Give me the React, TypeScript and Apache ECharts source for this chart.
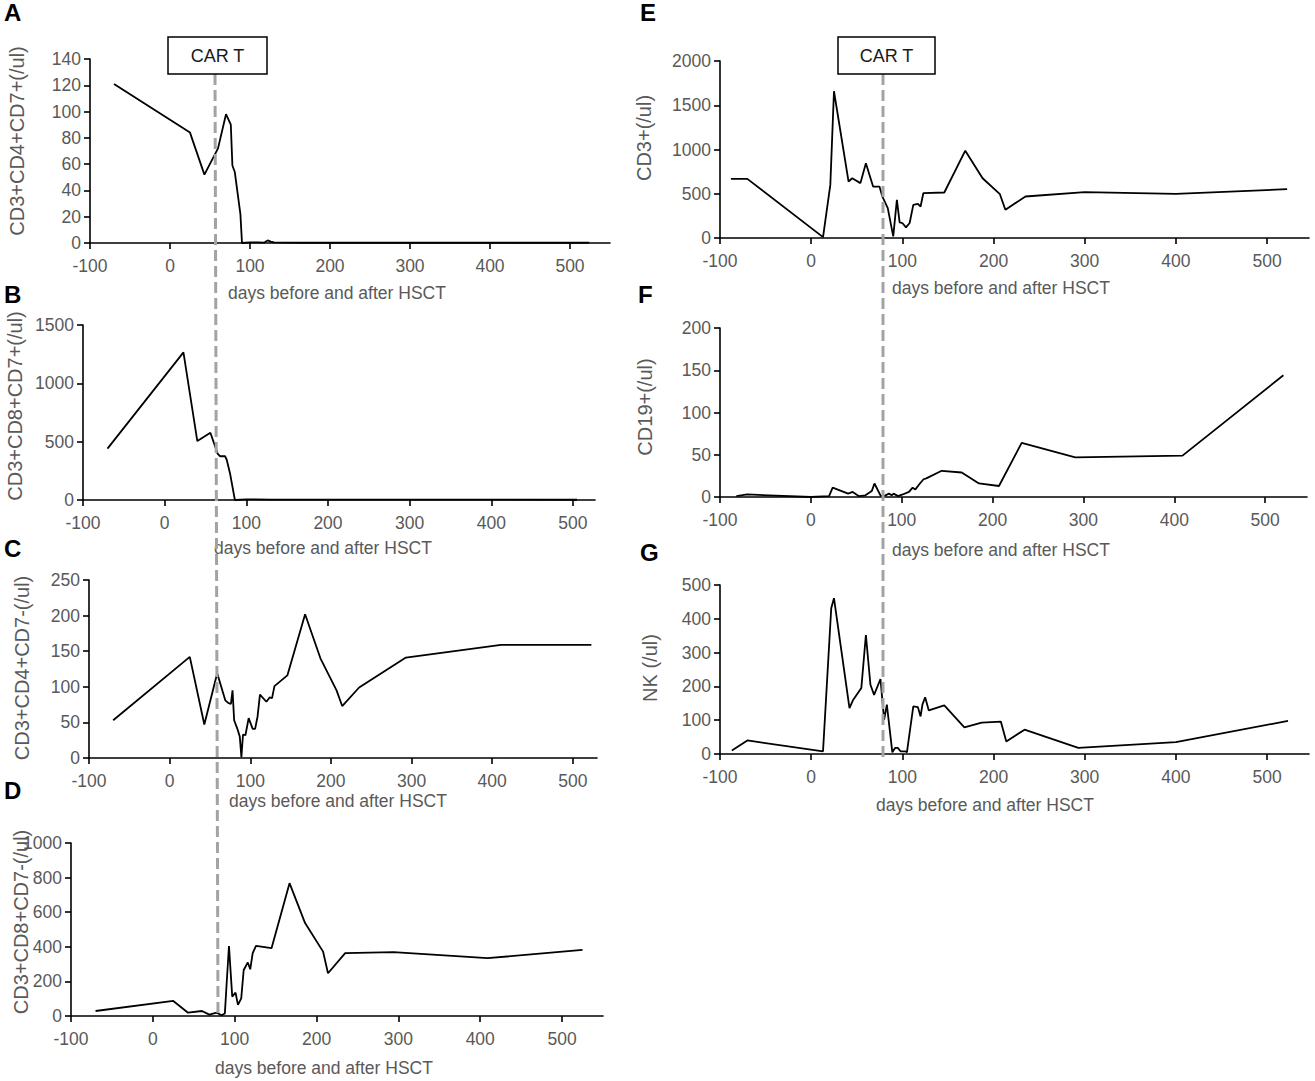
import React, { useEffect, useRef } from "react";
import * as echarts from "echarts";

// ---------- data ----------
const xTickValues = [-100, 0, 100, 200, 300, 400, 500];
const xTitle = "days before and after HSCT";
const carTLabel = "CAR T";
const panelLetters = ["A", "B", "C", "D", "E", "F", "G"];
const yTitles = [
  "CD3+CD4+CD7+(/ul)",
  "CD3+CD8+CD7+(/ul)",
  "CD3+CD4+CD7-(/ul)",
  "CD3+CD8+CD7-(/ul)",
  "CD3+(/ul)",
  "CD19+(/ul)",
  "NK (/ul)",
];
const yMaxes = [140, 1500, 250, 1000, 2000, 200, 500];
const yIntervals = [20, 500, 50, 200, 500, 50, 100];
const xMaxes = [550, 527, 530, 550, 546, 546, 546];

const aDays = [-70, 25, 43, 60, 70, 76, 78, 81, 88, 90, 100, 110, 118, 122, 126, 130, 146, 168, 187, 208, 214, 235, 293, 412, 524];
const aValues = [121, 84, 52, 72, 98, 90, 59, 54, 22, 0, 0.5, 0.5, 0.3, 2, 1, 0.5, 0.3, 0.2, 0.2, 0.2, 0.2, 0.2, 0.2, 0.2, 0.2];

const bDays = [-70, 23, 40, 56, 65, 68, 74, 76, 80, 86, 100, 130, 200, 300, 400, 505];
const bValues = [440, 1265, 505, 577, 395, 375, 375, 345, 230, 0, 5, 4, 3, 3, 3, 2];

const cDays = [-70, 25, 43, 59, 69, 73, 76, 78, 80, 84, 87, 89, 91, 94, 98, 103, 106, 109, 112, 120, 124, 127, 130, 146, 168, 187, 207, 214, 235, 293, 411, 523];
const cValues = [53, 142, 47, 119, 81, 77, 76, 95, 53, 41, 30, 1, 33, 32, 56, 41, 41, 58, 89, 79, 85, 84, 101, 116, 202, 140, 95, 73, 99, 141, 159, 159];

const dDays = [-70, 25, 43, 60, 69, 78, 84, 88, 90, 93, 97, 101, 104, 108, 111, 116, 119, 122, 126, 145, 167, 186, 208, 214, 235, 294, 409, 525];
const dValues = [29, 87, 19, 29, 8, 19, 4, 15, 175, 405, 112, 135, 64, 102, 266, 309, 270, 363, 405, 392, 768, 537, 372, 247, 363, 369, 334, 382];

const eDays = [-88, -70, 13, 21, 25, 41, 45, 54, 60, 68, 75, 78, 84, 90, 94, 97, 100, 104, 108, 112, 117, 120, 123, 146, 169, 188, 207, 213, 235, 300, 400, 522];
const eValues = [668, 668, 10, 600, 1658, 638, 675, 620, 844, 580, 580, 470, 338, 19, 432, 176, 169, 120, 169, 375, 386, 356, 506, 514, 987, 675, 495, 319, 469, 518, 499, 552];

const fDays = [-82, -70, 0, 20, 24, 41, 46, 53, 60, 67, 70, 77, 82, 86, 89, 91, 96, 101, 108, 112, 115, 120, 124, 127, 144, 166, 185, 207, 232, 291, 409, 520];
const fValues = [1, 3, 0, 1, 11, 4, 6, 1, 2, 7, 16, 1, 2, 4, 2, 4, 1, 3, 6, 11, 9, 16, 21, 22, 31, 29, 16, 13, 64, 47, 49, 144];

const gDays = [-87, -70, 13, 22, 25, 42, 46, 55, 60, 65, 69, 76, 80, 83, 89, 92, 95, 98, 103, 105, 112, 117, 120, 122, 125, 129, 146, 168, 187, 208, 214, 234, 293, 400, 523];
const gValues = [10, 40, 8, 431, 461, 136, 160, 195, 352, 205, 175, 222, 101, 146, 5, 18, 18, 8, 8, 5, 141, 139, 111, 146, 168, 129, 144, 79, 93, 96, 37, 72, 18, 35, 98];

const allDays = [aDays, bDays, cDays, dDays, eDays, fDays, gDays];
const allValues = [aValues, bValues, cValues, dValues, eValues, fValues, gValues];

// ---------- layout (pixels) ----------
const W = 1315;
const H = 1081;
const FONT = "Liberation Sans, Arial, Helvetica, sans-serif";
const GRAY = "#595959";

const grids = [
  { left: 90, top: 59, width: 520, height: 184 },
  { left: 83, top: 325, width: 512, height: 175 },
  { left: 89, top: 580, width: 508, height: 178 },
  { left: 71, top: 843, width: 532, height: 173 },
  { left: 720, top: 61, width: 589, height: 177 },
  { left: 720, top: 328, width: 587, height: 169 },
  { left: 720, top: 585, width: 589, height: 169 },
];
const xTitlePos = [
  [228, 293], [214, 548], [229, 801], [215, 1068], [892, 288], [892, 550], [876, 805],
];
const yTitlePos = [
  [17, 141], [15, 406], [22, 668], [21, 922], [644, 138], [645, 407], [650, 668],
];
const letterPos = [
  [4, 12], [4, 294], [4, 548], [4, 790], [640, 12], [638, 294], [640, 552],
];
const carTBoxes = [
  { x: 168, y: 37, w: 99, h: 37 },
  { x: 838, y: 37, w: 97, h: 37 },
];
const dashLines = [
  { x1: 215, y1: 74, x2: 218, y2: 1016 },
  { x1: 883, y1: 74, x2: 883, y2: 757 },
];

export default function App() {
  const ref = useRef<HTMLDivElement>(null);
  useEffect(() => {
    document.body.style.margin = "0";
    if (!ref.current) return;
    const chart = echarts.init(ref.current, null, { renderer: "svg", width: W, height: H });

    const xAxis = grids.map((_, i) => ({
      type: "value",
      gridIndex: i,
      min: -100,
      max: xMaxes[i],
      splitLine: { show: false },
      axisLine: { show: true, onZero: false, lineStyle: { color: "#000", width: 1.6 } },
      axisTick: { show: true, length: 6, customValues: xTickValues, lineStyle: { color: "#000", width: 1.6 } },
      axisLabel: {
        customValues: xTickValues,
        color: GRAY,
        fontSize: 17.5,
        fontFamily: FONT,
        margin: 14,
        formatter: (v: number) => String(v),
      },
    }));
    const yAxis = grids.map((_, i) => ({
      type: "value",
      gridIndex: i,
      min: 0,
      max: yMaxes[i],
      interval: yIntervals[i],
      splitLine: { show: false },
      axisLine: { show: true, onZero: false, lineStyle: { color: "#000", width: 1.6 } },
      axisTick: { show: true, length: 6, lineStyle: { color: "#000", width: 1.6 } },
      axisLabel: {
        color: GRAY,
        fontSize: 17.5,
        fontFamily: FONT,
        margin: 9,
        formatter: (v: number) => String(v),
      },
    }));
    const series = grids.map((_, i) => ({
      type: "line",
      xAxisIndex: i,
      yAxisIndex: i,
      data: allDays[i].map((d, k) => [d, allValues[i][k]]),
      showSymbol: false,
      symbol: "none",
      lineStyle: { color: "#000", width: 1.8 },
      z: 3,
    }));

    const graphic: any[] = [];
    dashLines.forEach((l) =>
      graphic.push({
        type: "line",
        z: 50,
        shape: l,
        style: { stroke: "#a3a3a3", lineWidth: 3, lineDash: [11, 5] },
      })
    );
    carTBoxes.forEach((b) => {
      graphic.push({
        type: "rect",
        z: 60,
        shape: { x: b.x, y: b.y, width: b.w, height: b.h },
        style: { fill: "#fff", stroke: "#000", lineWidth: 1.5 },
      });
      graphic.push({
        type: "text",
        z: 61,
        x: b.x + b.w / 2,
        y: b.y + b.h / 2,
        style: {
          text: carTLabel,
          fill: "#1a1a1a",
          font: `18px ${FONT}`,
          align: "center",
          verticalAlign: "middle",
        },
      });
    });
    xTitlePos.forEach(([x, y]) =>
      graphic.push({
        type: "text",
        x,
        y,
        style: { text: xTitle, fill: GRAY, font: `17.5px ${FONT}`, align: "left", verticalAlign: "middle" },
      })
    );
    yTitlePos.forEach(([x, y], i) =>
      graphic.push({
        type: "text",
        x,
        y,
        rotation: Math.PI / 2,
        style: { text: yTitles[i], fill: GRAY, font: `20px ${FONT}`, align: "center", verticalAlign: "middle" },
      })
    );
    letterPos.forEach(([x, y], i) =>
      graphic.push({
        type: "text",
        x,
        y,
        style: { text: panelLetters[i], fill: "#000", font: `bold 24px ${FONT}`, align: "left", verticalAlign: "middle" },
      })
    );

    chart.setOption({
      animation: false,
      backgroundColor: "#fff",
      grid: grids.map((g) => ({ ...g, containLabel: false })),
      xAxis,
      yAxis,
      series,
      graphic,
    });
    return () => chart.dispose();
  }, []);
  return <div ref={ref} style={{ width: W, height: H }} />;
}
